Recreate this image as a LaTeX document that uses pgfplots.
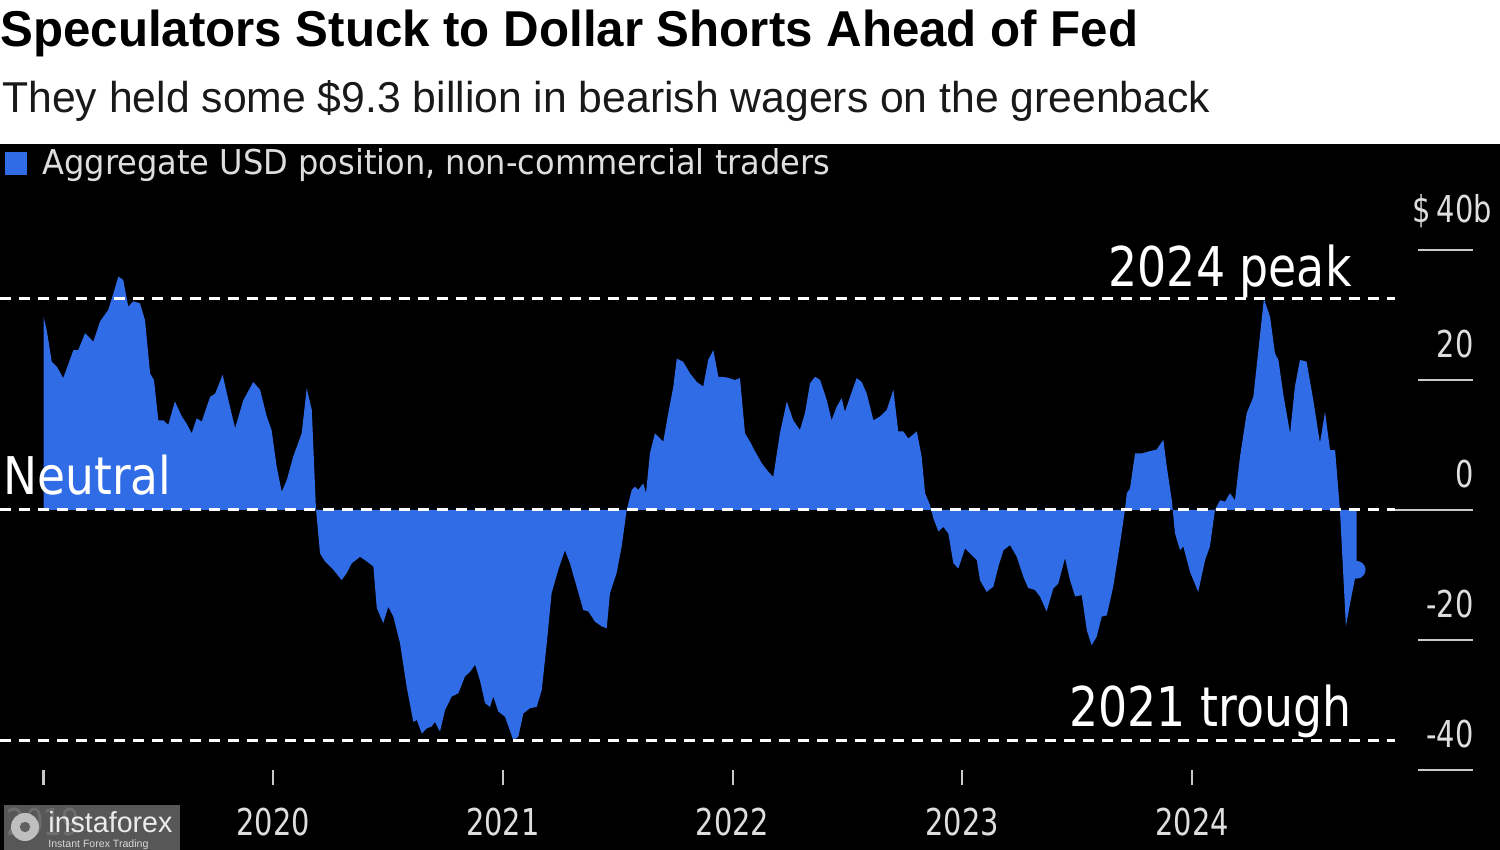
\documentclass[border=0pt]{standalone}
\usepackage{fontspec}
\usepackage{graphicx}
\usepackage{pgfplots}
\usepackage{pgfplotstable}
\pgfplotsset{compat=1.18}
\setmainfont{DejaVu Sans}
\newfontfamily\hfont{Liberation Sans}
\newfontfamily\lab{DejaVu Sans}[FakeStretch=0.78]
\definecolor{bbblue}{RGB}{47,108,230}
\definecolor{ticklab}{RGB}{222,222,222}
\definecolor{gridc}{RGB}{200,200,200}
\newlength\natw
\newcommand\fitw[2]{\settowidth{\natw}{#2}\pgfmathsetmacro\fitsc{#1/\natw}\scalebox{\fitsc}[1]{#2}}

\pgfplotstableread{
x y
2019.000 29.7
2019.014 27.7
2019.036 22.8
2019.057 22.1
2019.086 20.3
2019.130 24.6
2019.151 24.6
2019.181 27.2
2019.217 25.9
2019.246 29.0
2019.282 30.8
2019.304 33.3
2019.326 35.9
2019.347 35.4
2019.369 31.3
2019.391 32.1
2019.420 31.8
2019.442 29.2
2019.464 21.0
2019.481 20.0
2019.500 13.8
2019.522 13.8
2019.543 13.1
2019.572 16.7
2019.602 14.4
2019.623 13.3
2019.645 11.8
2019.667 14.1
2019.689 13.6
2019.725 17.4
2019.747 17.9
2019.780 20.8
2019.805 16.9
2019.834 12.6
2019.870 16.9
2019.913 19.7
2019.943 18.5
2019.972 14.4
2019.993 12.3
2020.015 6.7
2020.037 2.8
2020.059 4.6
2020.087 8.2
2020.124 11.8
2020.146 18.7
2020.168 15.4
2020.186 0.3
2020.204 -6.7
2020.225 -7.9
2020.262 -9.2
2020.298 -10.8
2020.320 -9.7
2020.342 -8.2
2020.378 -7.2
2020.407 -7.9
2020.436 -8.7
2020.451 -15.1
2020.479 -17.4
2020.501 -14.9
2020.523 -16.4
2020.552 -20.5
2020.581 -27.2
2020.610 -32.6
2020.625 -32.3
2020.647 -34.4
2020.668 -33.6
2020.690 -33.3
2020.704 -32.6
2020.726 -34.1
2020.748 -30.8
2020.777 -28.7
2020.806 -28.2
2020.835 -25.6
2020.857 -24.9
2020.879 -23.8
2020.900 -26.2
2020.922 -29.7
2020.944 -30.3
2020.958 -28.7
2020.980 -31.0
2021.009 -31.8
2021.024 -33.3
2021.045 -35.4
2021.067 -34.9
2021.089 -31.3
2021.118 -30.5
2021.147 -30.3
2021.169 -27.7
2021.191 -20.5
2021.212 -12.8
2021.241 -9.2
2021.270 -6.2
2021.292 -8.2
2021.321 -11.8
2021.350 -15.4
2021.372 -15.6
2021.401 -17.2
2021.430 -17.9
2021.452 -18.2
2021.466 -12.8
2021.495 -9.7
2021.517 -5.6
2021.539 0.0
2021.561 3.1
2021.575 3.6
2021.589 3.1
2021.611 4.1
2021.623 2.6
2021.640 8.7
2021.662 11.8
2021.698 10.5
2021.720 14.9
2021.742 19.0
2021.757 23.3
2021.785 22.8
2021.815 21.0
2021.844 19.7
2021.872 19.0
2021.894 23.1
2021.916 24.6
2021.938 20.5
2021.974 20.4
2022.010 20.0
2022.032 20.3
2022.054 11.8
2022.076 10.5
2022.098 9.0
2022.127 7.2
2022.155 5.9
2022.177 5.1
2022.206 11.8
2022.236 16.7
2022.264 13.8
2022.293 12.3
2022.315 14.9
2022.337 19.5
2022.359 20.5
2022.381 20.0
2022.410 16.9
2022.431 13.8
2022.453 15.9
2022.475 17.2
2022.489 15.1
2022.511 17.4
2022.540 20.3
2022.562 19.7
2022.584 17.9
2022.613 13.8
2022.642 14.4
2022.671 15.4
2022.700 18.5
2022.721 12.1
2022.743 12.1
2022.765 11.0
2022.802 12.1
2022.823 8.2
2022.838 2.6
2022.859 0.8
2022.874 -1.3
2022.896 -3.3
2022.917 -2.6
2022.939 -3.6
2022.961 -8.2
2022.983 -9.0
2023.012 -5.9
2023.034 -6.7
2023.063 -7.7
2023.077 -10.8
2023.106 -12.6
2023.135 -11.8
2023.157 -8.7
2023.179 -6.2
2023.208 -5.4
2023.237 -7.2
2023.266 -10.3
2023.287 -12.0
2023.316 -12.3
2023.338 -13.3
2023.367 -15.6
2023.396 -12.1
2023.418 -11.3
2023.447 -7.4
2023.469 -10.8
2023.491 -13.3
2023.520 -13.1
2023.542 -18.5
2023.563 -20.8
2023.585 -19.5
2023.607 -16.4
2023.629 -16.2
2023.657 -11.8
2023.687 -5.1
2023.708 0.0
2023.716 2.6
2023.730 3.3
2023.752 8.7
2023.781 8.7
2023.810 9.0
2023.846 9.3
2023.875 10.8
2023.890 6.7
2023.912 1.5
2023.926 -3.6
2023.948 -6.2
2023.962 -5.6
2023.991 -9.5
2024.027 -12.6
2024.057 -7.7
2024.078 -5.6
2024.100 0.0
2024.122 1.5
2024.144 1.3
2024.165 2.6
2024.187 1.5
2024.209 8.2
2024.238 14.9
2024.267 17.4
2024.289 24.6
2024.313 32.5
2024.340 29.7
2024.361 24.1
2024.376 23.1
2024.397 17.9
2024.427 11.8
2024.448 19.0
2024.470 23.1
2024.499 22.8
2024.528 16.9
2024.557 10.3
2024.579 15.1
2024.601 9.2
2024.623 9.2
2024.644 0.0
2024.659 -10.3
2024.670 -17.9
2024.688 -14.4
2024.717 -9.2
}\posdata

\begin{document}
\begin{tikzpicture}[x=1pt,y=1pt]
\useasboundingbox (0,0) rectangle (750,425);
\fill[white] (0,0) rectangle (750,425);
\fill[black] (0,0) rectangle (750,353);
% title and subtitle
\node[anchor=base west, inner sep=0, text=black] at (0,401.6)
  {\hfont\bfseries\fontsize{25.2}{30}\selectfont\fitw{569}{Speculators Stuck to Dollar Shorts Ahead of Fed}};
\node[anchor=base west, inner sep=0, text=black!90] at (1,368.6)
  {\hfont\fontsize{21.6}{26}\selectfont\fitw{604}{They held some \$9.3 billion in bearish wagers on the greenback}};
% legend
\fill[bbblue] (2.5,337.5) rectangle (13.5,349);
\node[anchor=base west, inner sep=0, text=ticklab] at (21,337.5)
  {\lab\fontsize{17.1}{20}\selectfont\fitw{394}{Aggregate USD position, non-commercial traders}};

\begin{axis}[
  at={(0pt,40pt)}, anchor=south west, scale only axis,
  width=750pt, height=260pt,
  xmin=2018.8106, xmax=2025.3409, ymin=-40, ymax=40,
  clip=false,
  axis line style={draw=none},
  xtick={2019,2020,2021,2022,2023,2024},
  xticklabels={2019,2020,2021,2022,2023,2024},
  xtick pos=bottom, tick align=outside, major tick length=7.5pt,
  x tick style={draw=gridc, line width=1.1pt},
  xticklabel style={font=\lab\fontsize{18.5}{20}\selectfont, text=ticklab, anchor=base, inner sep=0pt, yshift=-25.5pt},
  ytick={-40,-20,0,20,40},
  yticklabels={-40,-20,0,20,{\$\,40\rlap{b}}},
  ytick pos=right, yticklabel pos=right,
  y tick style={draw=none},
  yticklabel style={font=\lab\fontsize{18.5}{20}\selectfont, text=ticklab, anchor=south east, inner sep=0pt, xshift=-20.5pt, yshift=11pt},
]
\addplot[fill=bbblue, draw=none] table[x=x,y=y]{\posdata} \closedcycle;
\addplot[only marks, mark=*, mark size=4.2pt, color=bbblue] coordinates {(2024.717,-9.2)};
% reference lines
\draw[white, line width=1.5pt, dash pattern=on 5.5pt off 4pt] (axis cs:2018.8106,32.5) -- (axis cs:2024.8837,32.5);
\draw[white, line width=1.5pt, dash pattern=on 5.5pt off 4pt] (axis cs:2018.8106,0) -- (axis cs:2024.8837,0);
\draw[white, line width=1.5pt, dash pattern=on 5.5pt off 4pt] (axis cs:2018.8106,-35.4) -- (axis cs:2024.8837,-35.4);
% short right gridlines
\draw[gridc, line width=1pt] (axis cs:2024.8837,0) -- (axis cs:2025.2233,0);
\draw[gridc, line width=1pt] (axis cs:2024.9839,40) -- (axis cs:2025.2233,40);
\draw[gridc, line width=1pt] (axis cs:2024.9839,20) -- (axis cs:2025.2233,20);
\draw[gridc, line width=1pt] (axis cs:2024.9839,-20) -- (axis cs:2025.2233,-20);
\draw[gridc, line width=1pt] (axis cs:2024.9839,-40) -- (axis cs:2025.2233,-40);
\end{axis}

% annotations
\node[anchor=base east, inner sep=0, text=white] at (676,281.5)
  {\lab\fontsize{27.4}{30}\selectfont\fitw{121.5}{2024 peak}};
\node[anchor=base east, inner sep=0, text=white] at (676,61.5)
  {\lab\fontsize{27.4}{30}\selectfont\fitw{141}{2021 trough}};
\node[anchor=base west, inner sep=0, text=white] at (1.5,177.5)
  {\lab\fontsize{26}{30}\selectfont\fitw{84}{Neutral}};

% watermark
\fill[black!62, opacity=0.9] (2,0) rectangle (90,22.5);
\fill[black!25] (12.5,11.5) circle (7);
\fill[black!62] (12.5,11.5) circle (2.6);
\node[anchor=base west, inner sep=0, text=black!8] at (24,8.6)
  {\hfont\fontsize{14.5}{15}\selectfont\fitw{62}{instaforex}};
\node[anchor=base west, inner sep=0, text=black!15] at (24,1.4)
  {\hfont\fontsize{5.3}{6}\selectfont\fitw{50}{Instant Forex Trading}};
\end{tikzpicture}
\end{document}
